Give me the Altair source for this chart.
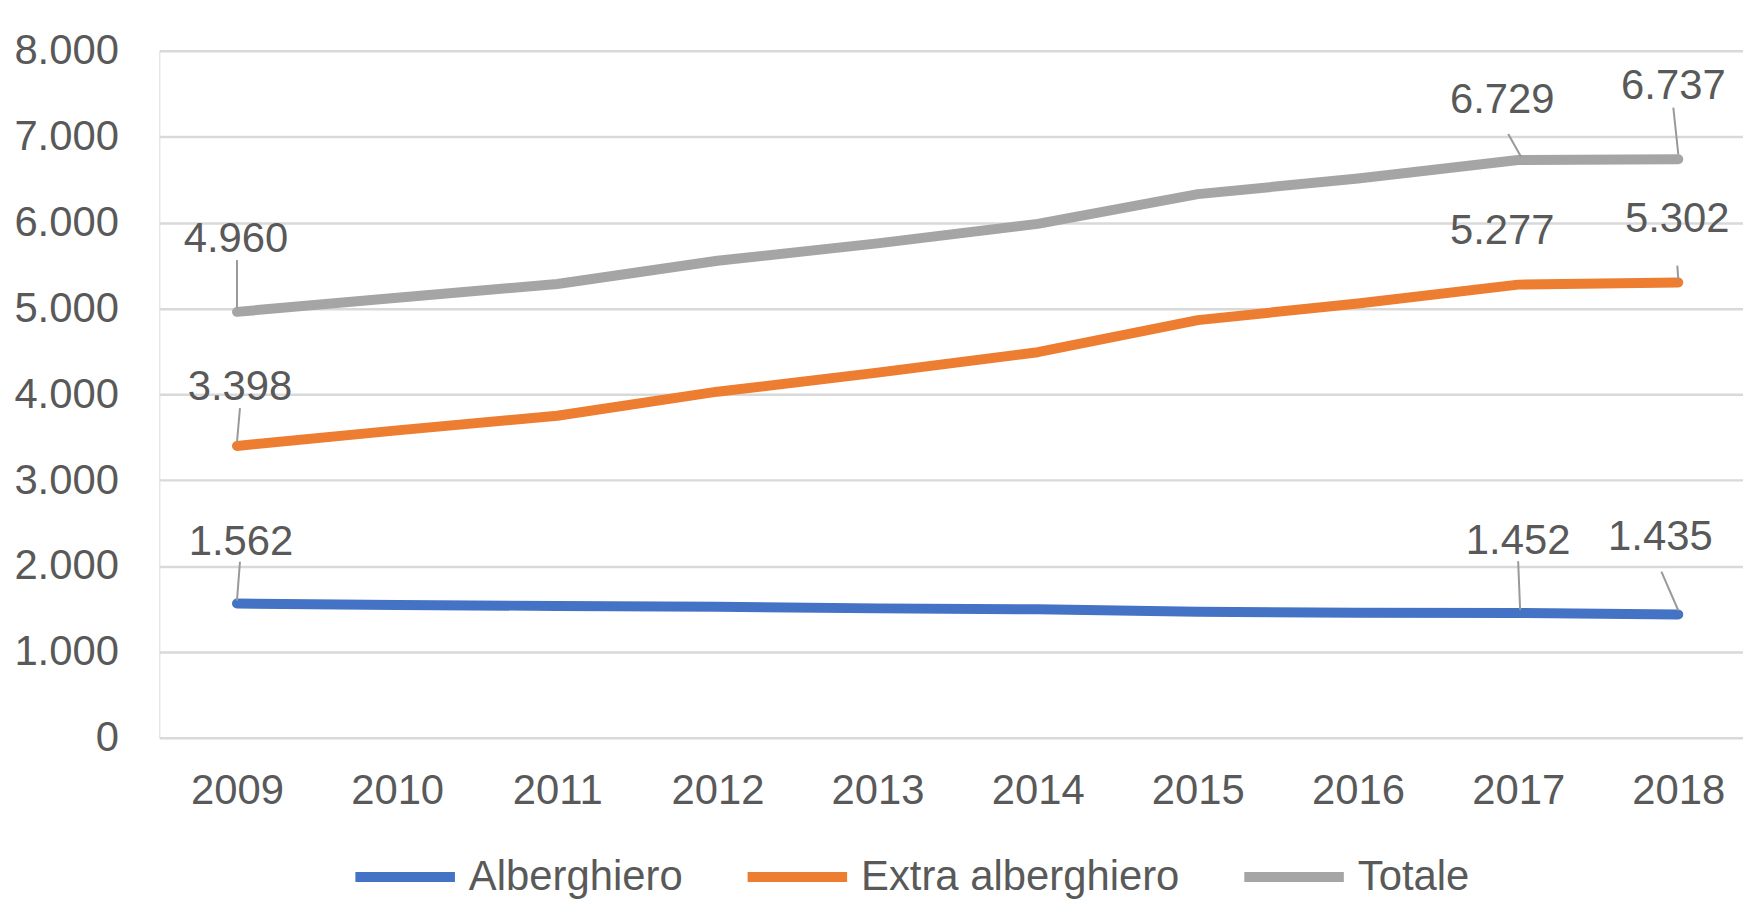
import altair as alt
import pandas as pd

# ---- data ----
years = [2009, 2010, 2011, 2012, 2013, 2014, 2015, 2016, 2017, 2018]
alberghiero = [1562, 1545, 1535, 1525, 1506, 1495, 1467, 1455, 1452, 1435]
extra_alberghiero = [3398, 3580, 3750, 4030, 4252, 4490, 4864, 5058, 5277, 5302]
totale = [4960, 5125, 5285, 5555, 5758, 5985, 6331, 6513, 6729, 6737]
series_names = ["Alberghiero", "Extra alberghiero", "Totale"]
series_colors = ["#4472C4", "#ED7D31", "#A5A5A5"]
y_ticks = [0, 1000, 2000, 3000, 4000, 5000, 6000, 7000, 8000]

# labelled points (series, year)
labelled = [("Totale", 2009), ("Totale", 2017), ("Totale", 2018),
            ("Extra alberghiero", 2009), ("Extra alberghiero", 2017), ("Extra alberghiero", 2018),
            ("Alberghiero", 2009), ("Alberghiero", 2017), ("Alberghiero", 2018)]
# label placement offsets in pixels (dx, dy) and leader line offsets (from, to) - layout only
label_offsets = [(-1, -73), (-16, -60), (-5, -74),
                 (3, -59), (-16, -54), (-1, -64),
                 (4, -62), (0, -72), (-18, -78)]
leader_offsets = [((0, -52), (0, -4)), ((-10, -26), (3, -3)), ((-5, -52), (0, -5)),
                  ((3, -38), (0, -4)), None, ((-1, -17), (0, -3)),
                  ((3, -42), (0, -3)), ((0, -52), (2, -3)), ((-17, -43), (0, -4))]

# ---- layout ----
PLOT_W, PLOT_H = 1591, 690
X_DOMAIN = [2008.515, 2018.404]
Y_DOMAIN = [0, 8000]
px_year = PLOT_W / (X_DOMAIN[1] - X_DOMAIN[0])
px_val = PLOT_H / (Y_DOMAIN[1] - Y_DOMAIN[0])
FONT = "Liberation Sans"
FS = 42
TXT = "#595959"

values = {"Alberghiero": alberghiero, "Extra alberghiero": extra_alberghiero, "Totale": totale}
rows = []
for s in series_names:
    for y, v in zip(years, values[s]):
        rows.append({"serie": s, "anno": y, "valore": v})
df = pd.DataFrame(rows)

lab_rows, lead_rows = [], []
for (s, yr), (dx, dy), lead in zip(labelled, label_offsets, leader_offsets):
    v = values[s][years.index(yr)]
    lab_rows.append({"anno": yr + dx / px_year, "valore": v - dy / px_val,
                     "testo": f"{v:,}".replace(",", ".")})
    if lead:
        (ax, ay), (bx, by) = lead
        lead_rows.append({"x1": yr + ax / px_year, "y1": v - ay / px_val,
                          "x2": yr + bx / px_year, "y2": v - by / px_val})
labels = pd.DataFrame(lab_rows)
leaders = pd.DataFrame(lead_rows)

xscale = alt.Scale(domain=X_DOMAIN, nice=False, zero=False)
yscale = alt.Scale(domain=Y_DOMAIN, nice=False)

lines = alt.Chart(df).mark_line(strokeWidth=10, strokeCap="round", strokeJoin="round").encode(
    x=alt.X("anno:Q", scale=xscale,
            axis=alt.Axis(values=years, format="d", title=None, grid=False, domain=False,
                          ticks=False, labelPadding=33, labelFontSize=FS, labelFont=FONT,
                          labelColor=TXT)),
    y=alt.Y("valore:Q", scale=yscale,
            axis=alt.Axis(values=y_ticks, title=None, domain=False, ticks=False,
                          labelExpr="replace(format(datum.value, ','), ',', '.')",
                          labelPadding=41, labelFontSize=FS, labelFont=FONT, labelColor=TXT,
                          gridColor="#D9D9D9", gridWidth=2.5)),
    color=alt.Color("serie:N", scale=alt.Scale(domain=series_names, range=series_colors),
                    sort=series_names,
                    legend=alt.Legend(title=None, orient="none", direction="horizontal",
                                      legendX=192, legendY=775, symbolType="stroke",
                                      symbolSize=10000, symbolStrokeWidth=10,
                                      labelFontSize=FS, labelFont=FONT, labelColor=TXT,
                                      labelLimit=0, labelOffset=9, columnPadding=45,
                                      padding=0)),
    detail="serie:N",
)

lead = alt.Chart(leaders).mark_rule(color="#999999", strokeWidth=2).encode(
    x="x1:Q", y="y1:Q", x2="x2:Q", y2="y2:Q")

text = alt.Chart(labels).mark_text(fontSize=FS, font=FONT, color=TXT, align="center",
                                   baseline="middle").encode(
    x=alt.X("anno:Q", scale=xscale), y=alt.Y("valore:Q", scale=yscale), text="testo:N")

chart = alt.layer(lines, lead, text).properties(
    width=PLOT_W, height=PLOT_H,
    padding={"left": 152, "top": 41, "right": 0, "bottom": 160},
    autosize=alt.AutoSizeParams(type="none"),
).configure_view(stroke=None).configure(background="white")

chart.save("out.html", embed_options={"renderer": "svg", "actions": False})
